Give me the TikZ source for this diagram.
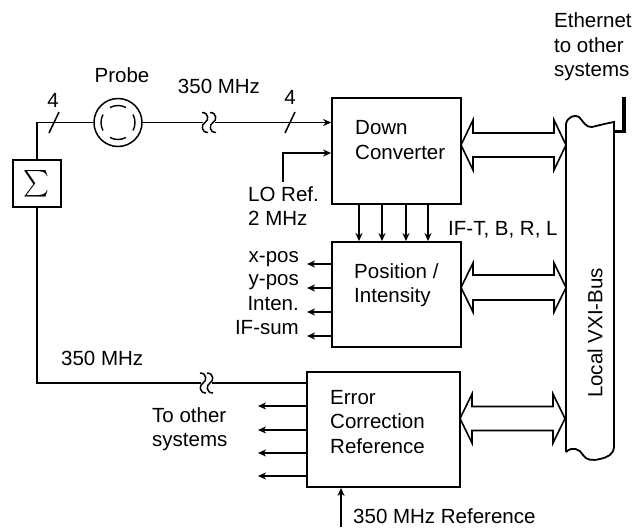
\documentclass[tikz,border=0pt]{standalone}
\usepackage{fontspec}
\setmainfont{Liberation Sans}
\usetikzlibrary{arrows.meta,calc}
\newcommand\dblarr[5]{% x1 x2 yc headhalf shafthalf
  \draw[line width=1.6pt,line join=miter]
    (#1,#3) -- (#1+12,#3-#4) -- (#1+12,#3-#5) -- (#2-12,#3-#5) -- (#2-12,#3-#4)
    -- (#2,#3) -- (#2-12,#3+#4) -- (#2-12,#3+#5) -- (#1+12,#3+#5) -- (#1+12,#3+#4) -- cycle;}
\newcommand\squig[2]{% x y : small vertical break squiggle
  \draw[line width=1.5pt] (#1-3,#2-10) .. controls (#1+4,#2-10) and (#1+4,#2-2) .. (#1,#2)
    .. controls (#1-4,#2+2) and (#1-4,#2+10) .. (#1+3,#2+10);}
\begin{document}
\begin{tikzpicture}[x=1pt,y=-1pt,
  font=\fontsize{20.5}{24.5}\selectfont,
  box/.style={draw,line width=1.8pt,inner sep=0pt},
  txt/.style={inner sep=0pt,align=left},
  wire/.style={line width=1.5pt},
  arr/.style={line width=1.5pt,-{Stealth[length=8pt,width=7pt,inset=2.5pt]}}]
\useasboundingbox (0,0) rectangle (637,528);

% boxes
\node[box,minimum width=48pt,minimum height=47pt] (sig) at (37,183.5) {};
\node[inner sep=0pt] (sigma) at (37,183.5) {\resizebox{26pt}{27pt}{$\sum$}};
\node[draw,circle,line width=1.5pt,minimum size=48pt,inner sep=0pt] (probe) at (118,122.5) {};
\foreach \a in {0,90,180,270}
  \draw[line width=1.4pt] (probe.center) ++(\a-28:17) arc[start angle=\a-28,end angle=\a+28,radius=17];
\node[box,minimum width=129pt,minimum height=106pt] (dc) at (396.5,151) {};
\node[box,minimum width=129pt,minimum height=105pt] (pi) at (396.5,294.5) {};
\node[box,minimum width=153pt,minimum height=115pt] (err) at (383.5,429.5) {};

% texts
\node[txt,anchor=west] (tdc) at (355,140) {Down\\Converter};
\node[txt,anchor=west] (tpi) at (354,285) {Position /\\Intensity};
\node[txt,anchor=west] (terr) at (330,422) {Error\\Correction\\Reference};
\node[txt,anchor=west] (teth) at (554,47) {Ethernet\\to other\\systems};
\node[txt,anchor=west] (tos) at (152,429) {To other\\systems};
\node[txt,anchor=west] (tlo) at (248,206) {LO Ref.\\2 MHz};
\node[txt,anchor=west] (tif) at (448,230) {IF-T, B, R, L};
\node[txt] (tprobe) at (122,75) {Probe};
\node[txt] (t350a) at (219,86) {350 MHz};
\node[txt] (t4a) at (53,100) {4};
\node[txt] (t4b) at (290,97) {4};
\node[txt,anchor=west] (t350b) at (61,358) {350 MHz};
\node[txt,anchor=west] (t350r) at (353,516) {350 MHz Reference};
\node[txt,anchor=east] (tx) at (299,259) {x-pos};
\node[txt,anchor=east] (ty) at (299,282) {y-pos};
\node[txt,anchor=east] (ti) at (299,304) {Inten.};
\node[txt,anchor=east] (tsum) at (299,328) {IF-sum};
\node[txt,rotate=90] (tvxi) at (595,333) {Local VXI-Bus};

% top signal path
\coordinate (c1) at (37,122.5);
\coordinate (b1) at (203,122.5);
\coordinate (b2) at (215,122.5);
\draw[wire] (sig.north) -- (c1) -- (probe.west);
\draw[wire] (probe.east) -- (b1);
\squig{205}{122.5}
\squig{213}{122.5}
\draw[arr] (b2) -- (b2 -| dc.west);
\draw[wire] (49,133) -- (59,112);
\draw[wire] (285,133) -- (295,112);

% LO ref
\coordinate (lo1) at (283,182);
\coordinate (lo2) at (283,153);
\draw[arr] (lo1) -- (lo2) -- (lo2 -| dc.west);

% bottom 350 MHz path
\coordinate (c2) at (37,383);
\coordinate (b3) at (201,383);
\coordinate (b4) at (212,383);
\draw[wire] (sig.south) -- (c2) -- (b3);
\squig{203}{383}
\squig{210}{383}
\draw[wire] (b4) -- (b4 -| err.west);

% DC -> PI arrows
\foreach \x in {359,382,406,428}
  \draw[arr] (\x,0 |- dc.south) -- (\x,0 |- pi.north);

% PI outputs
\foreach \y in {264,288,312,336}
  \draw[arr] (pi.west |- 0,\y) -- (307,\y);

% Error outputs
\foreach \y in {406,430,453,476}
  \draw[arr] (err.west |- 0,\y) -- (258,\y);

% reference input
\coordinate (r1) at (341,527);
\draw[arr] (r1) -- (r1 |- err.south);

% double arrows
\dblarr{461}{566}{145}{25}{12}
\dblarr{461}{566}{287.5}{24.5}{12.5}
\dblarr{460}{565}{418.5}{24.5}{12}

% VXI bus
\draw[line width=1.8pt] (566,452) -- (566,124)
  .. controls (567,117) and (575,114) .. (579,117)
  .. controls (583,121) and (586,128) .. (592,127)
  .. controls (600,125) and (608,123) .. (614,122)
  -- (614,447)
  .. controls (613,455) and (608,457) .. (600,459)
  .. controls (592,461) and (586,460) .. (583,455)
  .. controls (580,449) and (572,446) .. (566,452);
\draw[line width=3.8pt] (624,97) -- (624,131.5) -- (613,131.5);
\end{tikzpicture}
\end{document}
